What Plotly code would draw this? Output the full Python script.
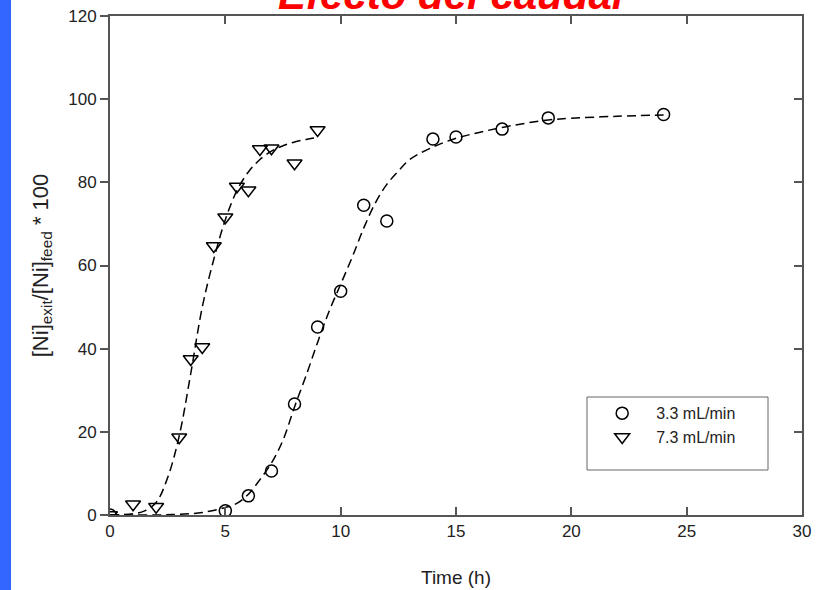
import plotly.graph_objects as go

# Data: 3.3 mL/min (circles)
t_33 = [0, 5, 6, 7, 8, 9, 10, 11, 12, 14, 15, 17, 19, 24]
y_33 = [0, 1.0, 4.6, 10.6, 26.7, 45.2, 53.8, 74.5, 70.7, 90.4, 90.9, 92.8, 95.5, 96.3]

# Data: 7.3 mL/min (triangles)
t_73 = [0, 1, 2, 3, 3.5, 4, 4.5, 5, 5.5, 6, 6.5, 7, 8, 9]
y_73 = [0, 2.6, 2.0, 18.7, 37.5, 40.4, 64.7, 71.6, 79.0, 78.1, 88.0, 88.2, 84.6, 92.6]

# Fitted (dashed) curves
fit_t_33 = [0, 2, 3, 4, 5, 5.5, 6, 6.5, 7, 7.5, 8, 8.5, 9, 9.5, 10, 10.5, 11, 11.5, 12, 12.5, 13, 14, 15, 16, 17, 18, 19, 20, 22, 24]
fit_y_33 = [0, 0, 0.2, 0.6, 1.8, 2.8, 5.0, 8.5, 12.5, 18.0, 26.0, 33.5, 41.5, 49.0, 55.5, 62.0, 69.0, 75.0, 79.5, 82.7, 85.5, 88.5, 90.6, 92.0, 93.2, 94.2, 95.0, 95.4, 95.9, 96.2]

fit_t_73 = [0, 1, 1.5, 2, 2.5, 3, 3.5, 4, 4.5, 5, 5.5, 6, 6.5, 7, 7.5, 8, 8.5, 9]
fit_y_73 = [0, 0.3, 1.0, 3.0, 9.0, 19.0, 34.0, 50.0, 61.5, 71.0, 78.0, 82.5, 85.5, 87.5, 88.8, 89.7, 90.3, 90.8]

x_ticks = [0, 5, 10, 15, 20, 25, 30]
y_ticks = [0, 20, 40, 60, 80, 100, 120]

FONT = "Liberation Sans, Arial, sans-serif"
AXC = "#555555"

fig = go.Figure()

dash = "9px,5px"
fig.add_trace(go.Scatter(x=fit_t_33, y=fit_y_33, mode="lines", line=dict(color="black", width=1.5, dash=dash, shape="spline"),
                         showlegend=False, hoverinfo="skip"))
fig.add_trace(go.Scatter(x=fit_t_73, y=fit_y_73, mode="lines", line=dict(color="black", width=1.5, dash=dash, shape="spline"),
                         showlegend=False, hoverinfo="skip"))

fig.add_trace(go.Scatter(x=t_33, y=y_33, mode="markers", name="3.3 mL/min",
                         marker=dict(symbol="circle-open", size=12, color="black", line=dict(width=1.5))))
fig.add_trace(go.Scatter(x=t_73, y=y_73, mode="markers", name="7.3 mL/min",
                         marker=dict(symbol="triangle-down-open", size=13, color="black", line=dict(width=1.5))))

# right-side axis carrying inward ticks
fig.add_trace(go.Scatter(x=[None], y=[None], yaxis="y2", showlegend=False, hoverinfo="skip"))

fig.update_layout(
    width=822, height=590,
    margin=dict(l=110, r=20, t=16, b=75),
    paper_bgcolor="white", plot_bgcolor="white",
    font=dict(family=FONT, color="#222222", size=16),
    xaxis=dict(range=[0, 30], tickvals=x_ticks, ticks="inside", ticklen=8, tickwidth=1.5, tickcolor=AXC,
               showline=True, linecolor=AXC, linewidth=2, mirror="ticks", showgrid=False, zeroline=False,
               automargin=False,
               title=dict(text="Time (h)", font=dict(size=19, color="#222222"), standoff=30),
               tickfont=dict(size=17)),
    yaxis=dict(range=[0, 120], tickvals=y_ticks, ticks="outside", ticklen=8, tickwidth=1.5, tickcolor=AXC,
               showline=True, linecolor=AXC, linewidth=2, mirror=True, showgrid=False, zeroline=False,
               automargin=False,
               title=dict(text="[Ni]<sub>exit</sub>/[Ni]<sub>feed</sub> * 100", font=dict(size=22, color="#222222"), standoff=14),
               tickfont=dict(size=17)),
    yaxis2=dict(range=[0, 120], tickvals=y_ticks, ticks="inside", ticklen=8, tickwidth=1.5, tickcolor=AXC,
                overlaying="y", side="right", showticklabels=False, showgrid=False, zeroline=False, showline=False,
                automargin=False),
    legend=dict(x=0.691, y=0.238, xanchor="left", yanchor="top", bgcolor="rgba(0,0,0,0)",
                font=dict(size=16, color="#222222"), itemwidth=58),
    shapes=[
        dict(type="rect", xref="paper", yref="paper", x0=-110/692, x1=(11-110)/692, y0=-75/499, y1=(499+16)/499,
             fillcolor="#3366FF", line=dict(width=0), layer="below"),
        dict(type="rect", xref="paper", yref="paper", x0=(587-110)/692, x1=(768-110)/692,
             y0=(515-470)/499, y1=(515-397)/499, line=dict(color="#666666", width=1), fillcolor="rgba(0,0,0,0)"),
    ],
    annotations=[
        dict(text="<b><i>Efecto del caudal</i></b>", xref="paper", yref="paper", x=(451-110)/692, y=1,
             xanchor="center", yanchor="bottom", yshift=-4, showarrow=False,
             font=dict(size=42, color="#FF0000", family=FONT)),
    ],
)

fig.write_html("out.html")
